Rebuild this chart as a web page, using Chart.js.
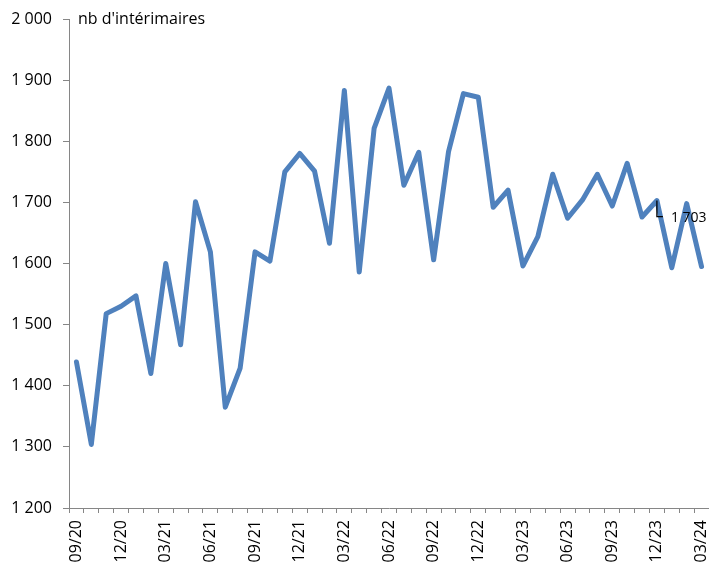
<!DOCTYPE html>
<html>
<head>
<meta charset="utf-8">
<script src="https://cdn.jsdelivr.net/npm/chart.js@4.4.1/dist/chart.umd.min.js"></script>
<style>
  html, body { margin: 0; padding: 0; background: #fff; }
  #wrap { width: 709px; height: 567px; position: relative; }
</style>
</head>
<body>
<div id="wrap"><canvas id="interimChart"></canvas></div>
<script>
// monthly labels, 09/20 .. 03/24
const months = [
    '09/20', '10/20', '11/20', '12/20', '01/21', '02/21', '03/21', '04/21', '05/21', '06/21', '07/21', '08/21',
    '09/21', '10/21', '11/21', '12/21', '01/22', '02/22', '03/22', '04/22', '05/22', '06/22', '07/22', '08/22',
    '09/22', '10/22', '11/22', '12/22', '01/23', '02/23', '03/23', '04/23', '05/23', '06/23', '07/23', '08/23',
    '09/23', '10/23', '11/23', '12/23', '01/24', '02/24', '03/24'
];

// nb d'intérimaires
const interimaires = [
    1439, 1304, 1518, 1530, 1547, 1420, 1600, 1467, 1701, 1619, 1365, 1429,
    1619, 1604, 1750, 1780, 1751, 1633, 1883, 1586, 1821, 1887, 1728, 1782,
    1606, 1783, 1878, 1872, 1692, 1720, 1596, 1644, 1746, 1674, 1704, 1746,
    1694, 1764, 1676, 1703, 1593, 1698, 1595
];

const yTicks = [1200, 1300, 1400, 1500, 1600, 1700, 1800, 1900, 2000];
const labelledIndex = 39; // 12/23 -> "1 703"
const unitLabel = "nb d'intérimaires";

const FONT = '"Open Sans", "Liberation Sans", sans-serif';
const FONT_SIZE = 16;
const AXIS_GREY = '#868686';

function formatNumber(v) {
    return String(v).replace(/\B(?=(\d{3})+(?!\d))/g, ' ');
}

// unit label in the top-left corner + leader-line label on one point
const annotationPlugin = {
    id: 'annotations',
    afterDatasetsDraw(chart) {
        const { ctx, chartArea, scales } = chart;
        ctx.save();
        ctx.fillStyle = '#000';
        ctx.font = FONT_SIZE + 'px ' + FONT;
        ctx.textBaseline = 'middle';
        ctx.textAlign = 'left';
        ctx.fillText(unitLabel, chartArea.left + 9, chartArea.top);

        const px = scales.x.getPixelForValue(labelledIndex);
        const py = scales.y.getPixelForValue(interimaires[labelledIndex]);
        ctx.strokeStyle = '#000';
        ctx.lineWidth = 1.3;
        ctx.beginPath();
        ctx.moveTo(px, py);
        ctx.lineTo(px, py + 16);
        ctx.lineTo(px + 6, py + 16);
        ctx.stroke();
        ctx.font = '14px ' + FONT;
        ctx.fillText(formatNumber(interimaires[labelledIndex]), px + 14, py + 17);
        ctx.restore();
    }
};

const ctx = document.getElementById('interimChart').getContext('2d');
const chart = new Chart(ctx, {
    type: 'line',
    data: {
        labels: months,
        datasets: [{
            data: interimaires,
            borderColor: '#4F81BD',
            borderWidth: 5,
            borderJoinStyle: 'round',
            borderCapStyle: 'round',
            pointRadius: 0,
            fill: false,
            tension: 0
        }]
    },
    options: {
        responsive: true,
        maintainAspectRatio: false,
        animation: false,
        layout: { padding: { top: 19, right: 0, left: 0, bottom: 0 } },
        plugins: {
            legend: { display: false },
            tooltip: { enabled: false }
        },
        scales: {
            x: {
                offset: true,
                grid: {
                    offset: true,
                    drawOnChartArea: false,
                    tickLength: 5,
                    color: AXIS_GREY
                },
                border: { color: AXIS_GREY, width: 1 },
                ticks: {
                    autoSkip: false,
                    minRotation: 90,
                    maxRotation: 90,
                    padding: 7,
                    color: '#000',
                    font: { family: FONT, size: FONT_SIZE },
                    callback: (val, i) => (i % 3 === 0 ? months[i] : '')
                },
                afterFit: (scale) => {
                    scale.height = 59;
                    scale.paddingLeft = 0;
                    scale.paddingRight = 0;
                }
            },
            y: {
                min: yTicks[0],
                max: yTicks[yTicks.length - 1],
                afterBuildTicks: (scale) => { scale.ticks = yTicks.map(v => ({ value: v })); },
                grid: {
                    drawOnChartArea: false,
                    tickLength: 6,
                    color: AXIS_GREY
                },
                border: { color: AXIS_GREY, width: 1 },
                ticks: {
                    padding: 11,
                    color: '#000',
                    font: { family: FONT, size: FONT_SIZE },
                    callback: (v) => formatNumber(v)
                },
                afterFit: (scale) => {
                    scale.width = 69;
                    scale.paddingTop = 0;
                    scale.paddingBottom = 0;
                }
            }
        }
    },
    plugins: [annotationPlugin]
});
</script>
</body>
</html>
